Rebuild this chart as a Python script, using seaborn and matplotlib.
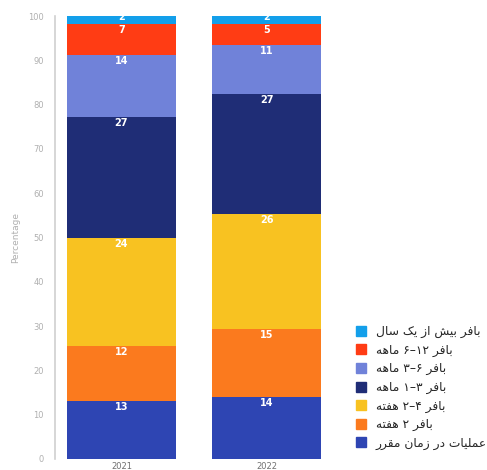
import re
import pandas as pd
import matplotlib
matplotlib.use("Agg")
import matplotlib.pyplot as plt
from matplotlib.lines import Line2D
import seaborn as sns

# Data (percent per category, bottom of stack first)
years = ["2021", "2022"]
categories = [
    "عملیات در زمان مقرر",
    "بافر ۲ هفته",
    "بافر ۴–۲ هفته",
    "بافر ۳–۱ ماهه",
    "بافر ۶–۳ ماهه",
    "بافر ۱۲–۶ ماهه",
    "بافر بیش از یک سال",
]
values_2021 = [13.2, 12.3, 24.4, 27.3, 14.0, 7.0, 1.8]
values_2022 = [14.0, 15.3, 26.0, 27.1, 11.1, 4.7, 1.8]
colors = ["#2e45b3", "#fb7a1e", "#f8c221", "#1f2d76", "#7082d9", "#ff3c14", "#139fea"]

# --- tiny Persian shaper (matplotlib has no complex text layout) ---
FORMS = {
    "ا": ("\uFE8D", "\uFE8E", None, None),
    "ب": ("\uFE8F", "\uFE90", "\uFE91", "\uFE92"),
    "ت": ("\uFE95", "\uFE96", "\uFE97", "\uFE98"),
    "د": ("\uFEA9", "\uFEAA", None, None),
    "ر": ("\uFEAD", "\uFEAE", None, None),
    "ز": ("\uFEAF", "\uFEB0", None, None),
    "س": ("\uFEB1", "\uFEB2", "\uFEB3", "\uFEB4"),
    "ش": ("\uFEB5", "\uFEB6", "\uFEB7", "\uFEB8"),
    "ع": ("\uFEC9", "\uFECA", "\uFECB", "\uFECC"),
    "ف": ("\uFED1", "\uFED2", "\uFED3", "\uFED4"),
    "ق": ("\uFED5", "\uFED6", "\uFED7", "\uFED8"),
    "ل": ("\uFEDD", "\uFEDE", "\uFEDF", "\uFEE0"),
    "م": ("\uFEE1", "\uFEE2", "\uFEE3", "\uFEE4"),
    "ن": ("\uFEE5", "\uFEE6", "\uFEE7", "\uFEE8"),
    "ه": ("\uFEE9", "\uFEEA", "\uFEEB", "\uFEEC"),
    "ک": ("\uFB8E", "\uFB8F", "\uFB90", "\uFB91"),
    "ی": ("\uFBFC", "\uFBFD", "\uFBFE", "\uFBFF"),
}


def rtl(text):
    out = []
    for i, c in enumerate(text):
        f = FORMS.get(c)
        if f is None:
            out.append(c)
            continue
        prev = text[i - 1] if i > 0 else None
        nxt = text[i + 1] if i + 1 < len(text) else None
        jp = prev in FORMS and FORMS[prev][2] is not None
        jn = nxt in FORMS and f[2] is not None
        if jp and jn:
            out.append(f[3])
        elif jp:
            out.append(f[1])
        elif jn:
            out.append(f[2])
        else:
            out.append(f[0])
    # visual order: reverse everything except digit runs
    tokens = re.findall(r"[۰-۹0-9]+|.", "".join(out))
    return "".join(reversed(tokens))


# cumulative tops for stacked bars
rows = []
for year, vals in zip(years, [values_2021, values_2022]):
    top = 0
    for cat, v in zip(categories, vals):
        top += v
        rows.append({"year": year, "category": cat, "value": v, "top": top})
df = pd.DataFrame(rows)

sns.set_theme(style="white")
plt.rcParams["font.family"] = ["DejaVu Sans"]

fig = plt.figure(figsize=(4.87, 4.70), dpi=100)
ax = fig.add_axes([55 / 487, 11 / 470, 278 / 487, 443 / 470])

# draw tallest first so shorter stacks sit on top
for cat, col in reversed(list(zip(categories, colors))):
    sub = df[df["category"] == cat]
    sns.barplot(data=sub, x="year", y="top", order=years, color=col,
                width=0.75, linewidth=0, ax=ax, saturation=1)

for _, r in df.iterrows():
    is_top = r["category"] == categories[-1]
    ax.annotate(f"{r['value']:.0f}", (years.index(r["year"]), r["top"]),
                xytext=(0, -1 if is_top else -0.8), textcoords="offset points",
                ha="center", va="center" if is_top else "top", color="white",
                fontsize=7, fontweight="bold")

ax.set_xlim(-0.458, 1.458)
ax.set_ylim(0, 100)
ax.set_yticks(range(0, 101, 10))
ax.set_xlabel("")
ax.set_ylabel("Percentage", color="#b0b0b0", fontsize=6.5, labelpad=6)
ax.tick_params(axis="y", length=0, pad=8, labelsize=6, labelcolor="#b0b0b0")
ax.tick_params(axis="x", length=0, pad=2.5, labelsize=6, labelcolor="#707070")
for s in ["top", "right", "bottom"]:
    ax.spines[s].set_visible(False)
ax.spines["left"].set_color("#d0d0d0")
ax.spines["left"].set_linewidth(1.2)
ax.spines["left"].set_bounds(0, 100)

handles = [Line2D([], [], marker="s", linestyle="none", markersize=6.5,
                  markerfacecolor=c, markeredgecolor=c)
           for c in reversed(colors)]
labels = [rtl(c) for c in reversed(categories)]
fig.legend(handles, labels, loc="upper left",
           bbox_to_anchor=(356 / 487, 1 - 325 / 470), frameon=False,
           fontsize=8.8, handlelength=0.8, handletextpad=0.8,
           labelspacing=0.45, borderaxespad=0, borderpad=0)

fig.savefig("out.png", dpi=100)
